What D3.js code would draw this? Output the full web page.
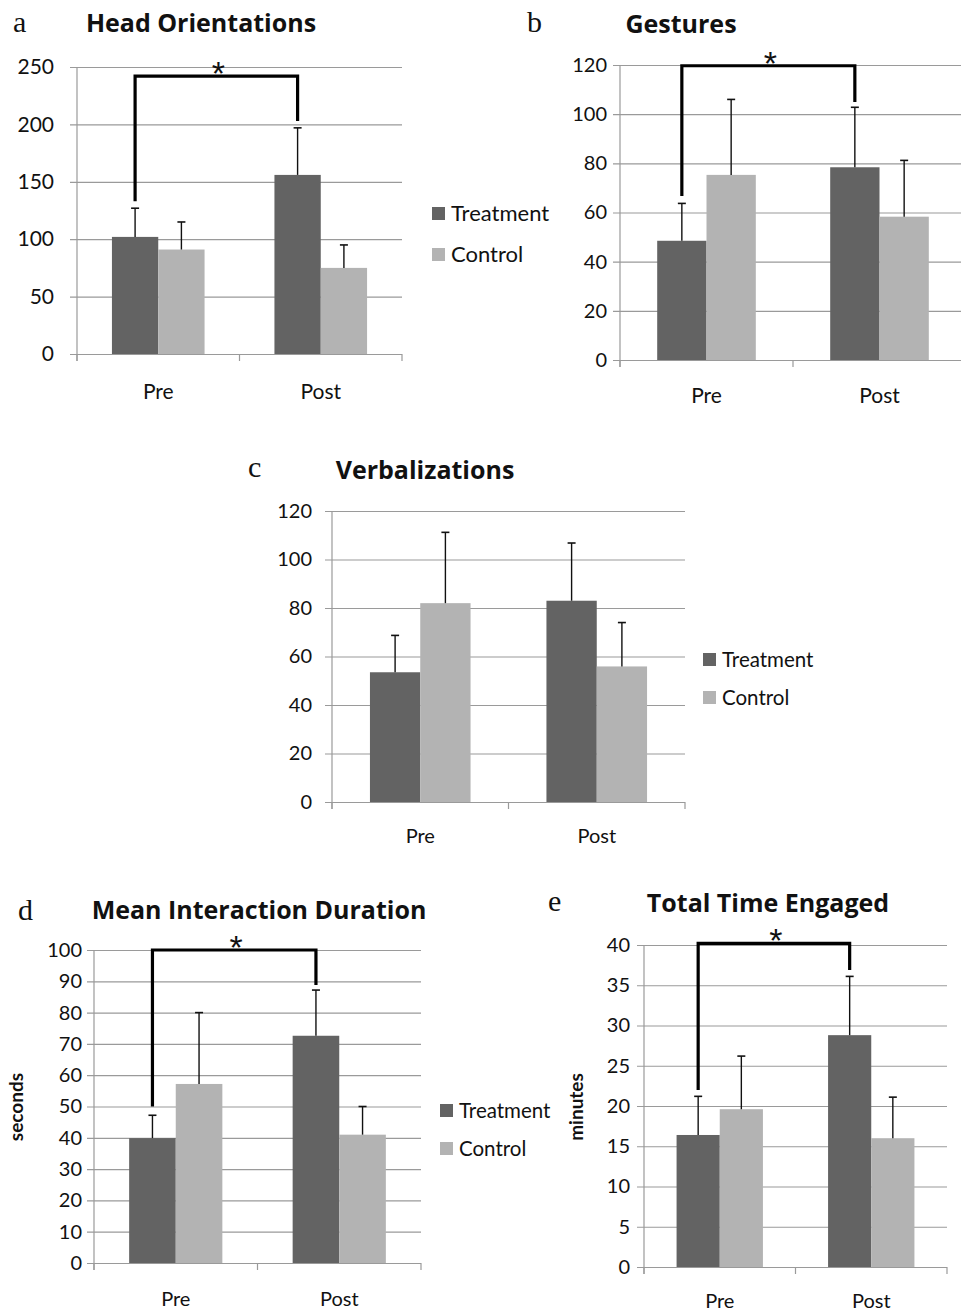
<!DOCTYPE html>
<html>
<head>
<meta charset="utf-8">
<script src="https://cdn.jsdelivr.net/npm/d3@7"></script>
<style>
  html, body { margin: 0; padding: 0; background: #fff; }
  svg { display: block; }
</style>
</head>
<body>
<svg id="chart" width="961" height="1312"></svg>
<script>
// ---------- DATA ----------
const groups = ["Pre", "Post"];
const series = ["Treatment", "Control"];

// a: Head Orientations
const headTreatment = [102, 156];
const headControl = [91, 75];
const headTreatmentErr = [25, 41];
const headControlErr = [24, 20];
const headTicks = [0, 50, 100, 150, 200, 250];
const headBracket = [133, 242, 203]; // left end, top, right end

// b: Gestures
const gestTreatment = [48.5, 78.4];
const gestControl = [75.3, 58.3];
const gestTreatmentErr = [15.2, 24.4];
const gestControlErr = [30.7, 22.9];
const gestTicks = [0, 20, 40, 60, 80, 100, 120];
const gestBracket = [66.7, 119.7, 105];

// c: Verbalizations
const verbTreatment = [53.5, 83];
const verbControl = [82, 55.9];
const verbTreatmentErr = [15.2, 23.8];
const verbControlErr = [29.2, 18.1];
const verbTicks = [0, 20, 40, 60, 80, 100, 120];

// d: Mean Interaction Duration (seconds)
const durTreatment = [39.9, 72.6];
const durControl = [57.2, 41];
const durTreatmentErr = [7.3, 14.6];
const durControlErr = [22.8, 9];
const durTicks = [0, 10, 20, 30, 40, 50, 60, 70, 80, 90, 100];
const durBracket = [50, 100, 88.8];

// e: Total Time Engaged (minutes)
const totTreatment = [16.4, 28.8];
const totControl = [19.6, 16];
const totTreatmentErr = [4.8, 7.3];
const totControlErr = [6.6, 5.1];
const totTicks = [0, 5, 10, 15, 20, 25, 30, 35, 40];
const totBracket = [22, 40.2, 36.9];

// ---------- STYLE ----------
const colors = { Treatment: "#636363", Control: "#b3b3b3" };
const gridColor = "#9a9a9a";
const sansFont = "Lato, 'Open Sans', sans-serif";
const titleFont = "'Open Sans', Lato, sans-serif";
const starFont = "'Liberation Sans', Arial, sans-serif";
const serifFont = "'Liberation Serif', 'DejaVu Serif', serif";

const svg = d3.select("#chart");

function drawPanel(p) {
  const g = svg.append("g");
  const y = d3.scaleLinear().domain([0, d3.max(p.ticks)]).range([p.y0, p.yTop]);
  const x = d3.scaleBand().domain(groups).range([p.x0, p.x1]);
  const bw = x.bandwidth();
  const xs = d3.scaleBand().domain(series).range([bw * 0.215, bw * 0.785]);

  // panel letter
  g.append("text").attr("x", p.letterX).attr("y", p.letterY)
    .attr("font-family", serifFont).attr("font-size", 30).attr("fill", "#111")
    .text(p.letter);
  // title
  g.append("text").attr("x", p.titleX).attr("y", p.titleY)
    .attr("text-anchor", "middle").attr("font-family", titleFont)
    .attr("font-weight", "bold").attr("font-size", 25).attr("fill", "#111")
    .text(p.title);

  // y axis with gridlines
  const yAxis = d3.axisLeft(y).tickValues(p.ticks)
    .tickSizeInner(-(p.x1 - p.x0)).tickSizeOuter(0).tickPadding(p.labelGap);
  const ya = g.append("g").attr("transform", `translate(${p.x0},0)`).call(yAxis);
  ya.select(".domain").remove();
  ya.selectAll(".tick line").attr("x1", -7).attr("stroke", gridColor).attr("stroke-width", 1.2);
  ya.selectAll(".tick text").attr("font-family", sansFont).attr("font-size", p.tickFont)
    .attr("fill", "#111");

  // vertical axis line
  g.append("line").attr("x1", p.x0).attr("x2", p.x0)
    .attr("y1", y(d3.max(p.ticks))).attr("y2", y(0) + 7)
    .attr("stroke", gridColor).attr("stroke-width", 1.2);

  // x category ticks at band boundaries
  const bounds = groups.map(d => x(d)).concat([p.x1]);
  g.selectAll(".xt").data(bounds).enter().append("line")
    .attr("x1", d => d).attr("x2", d => d)
    .attr("y1", y(0)).attr("y2", y(0) + 7)
    .attr("stroke", gridColor).attr("stroke-width", 1.2);

  // category labels
  g.selectAll(".xl").data(groups).enter().append("text")
    .attr("x", d => x(d) + bw / 2).attr("y", p.catY)
    .attr("text-anchor", "middle").attr("font-family", sansFont)
    .attr("font-size", p.catFont).attr("fill", "#111").text(d => d);

  // bars
  const rows = [];
  groups.forEach((grp, i) => {
    rows.push({ grp, s: "Treatment", v: p.treat[i], e: p.treatErr[i] });
    rows.push({ grp, s: "Control", v: p.ctrl[i], e: p.ctrlErr[i] });
  });
  g.selectAll(".bar").data(rows).enter().append("rect")
    .attr("x", d => x(d.grp) + xs(d.s)).attr("width", xs.bandwidth())
    .attr("y", d => y(d.v)).attr("height", d => y(0) - y(d.v))
    .attr("fill", d => colors[d.s]);

  // error bars (upper only)
  const cx = d => x(d.grp) + xs(d.s) + xs.bandwidth() / 2;
  g.selectAll(".err").data(rows).enter().append("line")
    .attr("x1", cx).attr("x2", cx).attr("y1", d => y(d.v)).attr("y2", d => y(d.v + d.e))
    .attr("stroke", "#111").attr("stroke-width", 1.4);
  g.selectAll(".cap").data(rows).enter().append("line")
    .attr("x1", d => cx(d) - 4).attr("x2", d => cx(d) + 4)
    .attr("y1", d => y(d.v + d.e)).attr("y2", d => y(d.v + d.e))
    .attr("stroke", "#111").attr("stroke-width", 1.6);

  // significance bracket
  if (p.bracket) {
    const lx = x("Pre") + xs("Treatment") + xs.bandwidth() / 2;
    const rx = x("Post") + xs("Treatment") + xs.bandwidth() / 2;
    const [lv, tv, rv] = p.bracket;
    g.append("path")
      .attr("d", `M${lx},${y(lv)}V${y(tv)}H${rx}V${y(rv)}`)
      .attr("fill", "none").attr("stroke", "#000").attr("stroke-width", 3.2);
    g.append("text").attr("x", (lx + rx) / 2 + 2).attr("y", y(tv) + 9)
      .attr("text-anchor", "middle").attr("font-family", starFont)
      .attr("font-size", 34).attr("fill", "#111").text("*");
  }

  // y label
  if (p.yLabel) {
    g.append("text")
      .attr("transform", `translate(${p.yLabelX},${p.yLabelY}) rotate(-90)`)
      .attr("text-anchor", "middle").attr("font-family", sansFont)
      .attr("font-weight", "bold").attr("font-size", 19).attr("fill", "#111")
      .text(p.yLabel);
  }

  // legend
  if (p.legend) {
    const lg = g.selectAll(".lg").data(series).enter().append("g")
      .attr("transform", (d, i) => `translate(${p.legend.x},${p.legend.y + i * p.legend.step})`);
    lg.append("rect").attr("width", 13).attr("height", 13).attr("fill", d => colors[d]);
    lg.append("text").attr("x", 19).attr("y", 14).attr("font-family", sansFont)
      .attr("font-size", p.legend.font).attr("fill", "#111").text(d => d);
  }
}

drawPanel({
  letter: "a", letterX: 13, letterY: 32, title: "Head Orientations", titleX: 201, titleY: 32,
  x0: 77, x1: 402, yTop: 67, y0: 354, ticks: headTicks, tickFont: 21, labelGap: 23,
  catY: 399, catFont: 21,
  treat: headTreatment, ctrl: headControl, treatErr: headTreatmentErr, ctrlErr: headControlErr,
  bracket: headBracket, legend: { x: 432, y: 207, step: 41, font: 22 }
});
drawPanel({
  letter: "b", letterX: 527, letterY: 32, title: "Gestures", titleX: 681, titleY: 33,
  x0: 620, x1: 966, yTop: 65, y0: 360, ticks: gestTicks, tickFont: 20, labelGap: 13,
  catY: 403, catFont: 21,
  treat: gestTreatment, ctrl: gestControl, treatErr: gestTreatmentErr, ctrlErr: gestControlErr,
  bracket: gestBracket
});
drawPanel({
  letter: "c", letterX: 248, letterY: 477, title: "Verbalizations", titleX: 425, titleY: 479,
  x0: 332, x1: 685, yTop: 511, y0: 802, ticks: verbTicks, tickFont: 20, labelGap: 20,
  catY: 843, catFont: 20,
  treat: verbTreatment, ctrl: verbControl, treatErr: verbTreatmentErr, ctrlErr: verbControlErr,
  legend: { x: 703, y: 653, step: 38, font: 20.5 }
});
drawPanel({
  letter: "d", letterX: 18, letterY: 920, title: "Mean Interaction Duration", titleX: 259, titleY: 919,
  x0: 94, x1: 421, yTop: 950, y0: 1263, ticks: durTicks, tickFont: 20, labelGap: 12,
  catY: 1306, catFont: 20,
  treat: durTreatment, ctrl: durControl, treatErr: durTreatmentErr, ctrlErr: durControlErr,
  bracket: durBracket, yLabel: "seconds", yLabelX: 23, yLabelY: 1107,
  legend: { x: 440, y: 1104, step: 38, font: 20.5 }
});
drawPanel({
  letter: "e", letterX: 548, letterY: 911, title: "Total Time Engaged", titleX: 768, titleY: 912,
  x0: 644, x1: 947, yTop: 945, y0: 1267, ticks: totTicks, tickFont: 20, labelGap: 14,
  catY: 1308, catFont: 20,
  treat: totTreatment, ctrl: totControl, treatErr: totTreatmentErr, ctrlErr: totControlErr,
  bracket: totBracket, yLabel: "minutes", yLabelX: 583, yLabelY: 1107
});
</script>
</body>
</html>
